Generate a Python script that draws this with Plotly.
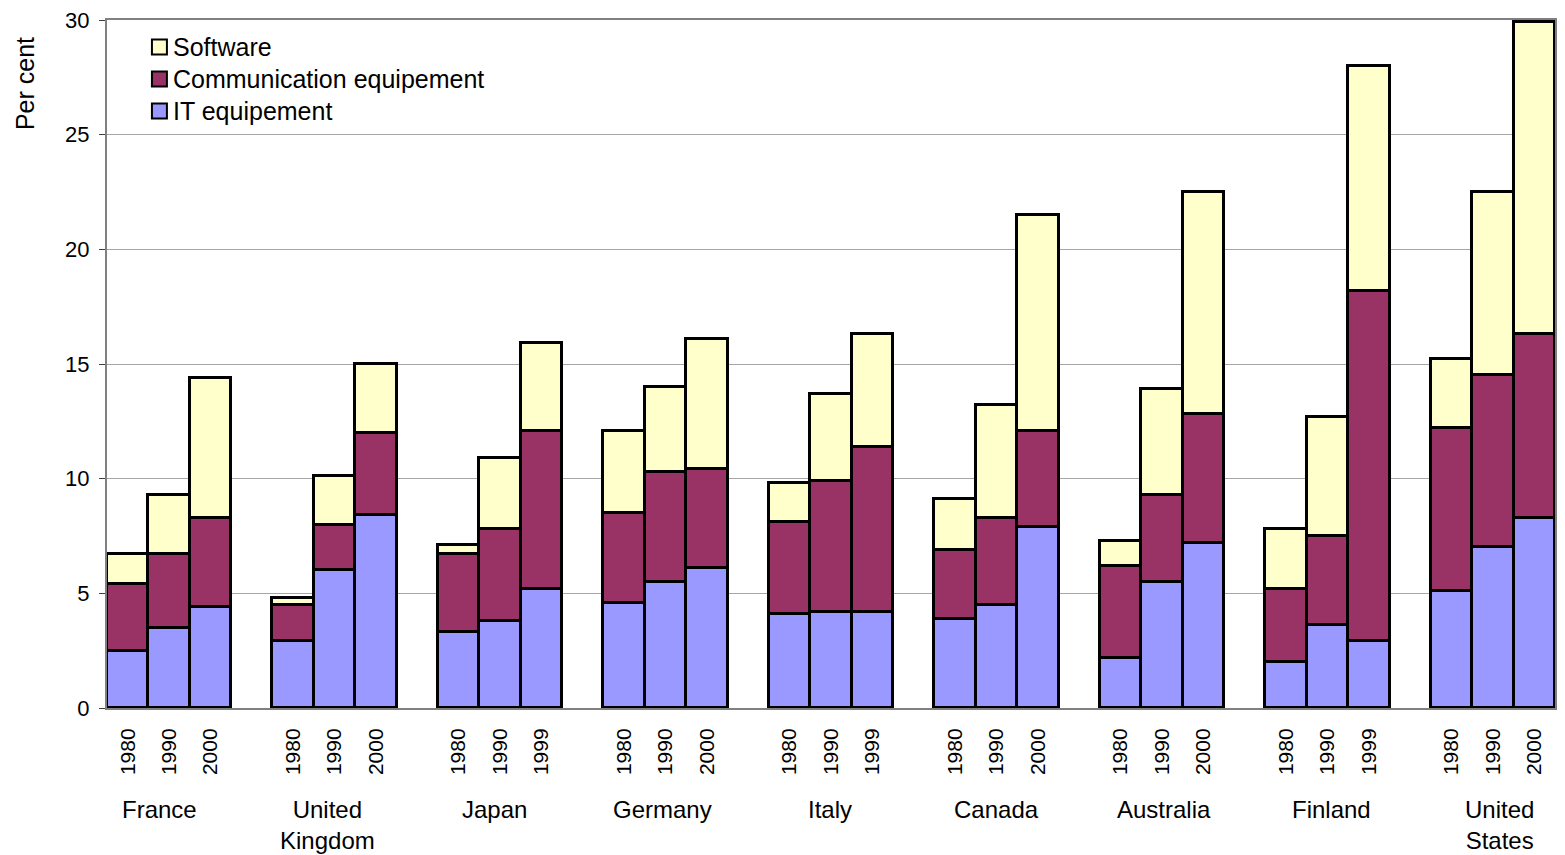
import plotly.graph_objects as go

# Shares of ICT investment in non-residential investment, by component
countries = ["France", "United<br>Kingdom", "Japan", "Germany", "Italy",
             "Canada", "Australia", "Finland", "United<br>States"]
years = [
    ["1980", "1990", "2000"],
    ["1980", "1990", "2000"],
    ["1980", "1990", "1999"],
    ["1980", "1990", "2000"],
    ["1980", "1990", "1999"],
    ["1980", "1990", "2000"],
    ["1980", "1990", "2000"],
    ["1980", "1990", "1999"],
    ["1980", "1990", "2000"],
]

it_equipment = [
    2.5, 3.5, 4.4,
    2.9, 6.0, 8.4,
    3.3, 3.8, 5.2,
    4.6, 5.5, 6.1,
    4.1, 4.2, 4.2,
    3.9, 4.5, 7.9,
    2.2, 5.5, 7.2,
    2.0, 3.6, 2.9,
    5.1, 7.0, 8.3,
]
communication = [
    2.9, 3.2, 3.9,
    1.6, 2.0, 3.6,
    3.4, 4.0, 6.9,
    3.9, 4.8, 4.3,
    4.0, 5.7, 7.2,
    3.0, 3.8, 4.2,
    4.0, 3.8, 5.6,
    3.2, 3.9, 15.3,
    7.1, 7.5, 8.0,
]
software = [
    1.3, 2.6, 6.1,
    0.3, 2.1, 3.0,
    0.4, 3.1, 3.8,
    3.6, 3.7, 5.7,
    1.7, 3.8, 4.9,
    2.2, 4.9, 9.4,
    1.1, 4.6, 9.7,
    2.6, 5.2, 9.8,
    3.0, 8.0, 13.6,
]

series_names = ["IT equipement", "Communication equipement", "Software"]
series_colors = ["#9999FF", "#993366", "#FFFFCC"]
series_values = [it_equipment, communication, software]

# Bar slots: three bars per country, one empty slot between countries
x_pos = []
tick_text = []
for g, ys in enumerate(years):
    for i, yr in enumerate(ys):
        x_pos.append(g * 4 + i)
        tick_text.append(yr)

FONT = "Arial, Liberation Sans, sans-serif"
EDGE = dict(color="black", width=3)

W, H = 1565, 855
ML, MR, MT, MB = 107, 8, 20, 147
PW, PH = W - ML - MR, H - MT - MB


def px_x(px):
    return (px - ML) / PW


def px_y(py):
    return (H - MB - py) / PH


fig = go.Figure()
for name, color, vals in zip(series_names, series_colors, series_values):
    fig.add_trace(go.Bar(x=x_pos, y=vals, name=name, showlegend=False,
                         marker=dict(color=color, line=EDGE)))

# Country names under each group of three bars
for g, name in enumerate(countries):
    fig.add_annotation(x=0.78 + g * 4.046, y=px_y(794), xref="x", yref="paper",
                       text=name, showarrow=False, yanchor="top",
                       font=dict(family=FONT, size=24, color="black"))

# Legend box in the upper-left corner, top entry = top of the stack
for row, k in enumerate(reversed(range(len(series_names)))):
    cy = 47 + row * 32
    fig.add_shape(type="rect", xref="paper", yref="paper",
                  x0=px_x(152), x1=px_x(167), y0=px_y(cy - 7.5), y1=px_y(cy + 7.5),
                  fillcolor=series_colors[k], line=dict(color="black", width=2),
                  layer="above")
    fig.add_annotation(x=px_x(171), y=px_y(cy), xref="paper", yref="paper",
                       text=series_names[k], showarrow=False,
                       xanchor="left", yanchor="middle",
                       font=dict(family=FONT, size=25, color="black"))

# Rotated axis caption near the top of the value axis
fig.add_annotation(x=px_x(25), y=px_y(84), xref="paper", yref="paper",
                   text="Per cent", textangle=-90, showarrow=False,
                   xanchor="center", yanchor="middle",
                   font=dict(family=FONT, size=25, color="black"))

fig.update_layout(
    width=W, height=H,
    margin=dict(l=ML, r=MR, t=MT, b=MB),
    paper_bgcolor="white", plot_bgcolor="white",
    barmode="stack", bargap=0,
    font=dict(family=FONT, size=21, color="black"),
    showlegend=False,
    xaxis=dict(range=[-0.5, 34.5], tickvals=x_pos, ticktext=tick_text,
               tickangle=-90, ticks="", ticklabelstandoff=10,
               tickfont=dict(family=FONT, size=21, color="black"),
               showgrid=False, zeroline=False,
               showline=True, linecolor="#808080", linewidth=2, mirror=True),
    yaxis=dict(range=[0, 30], tick0=0, dtick=5, ticks="outside", ticklen=6,
               tickcolor="#404040", tickwidth=1, ticklabelstandoff=5,
               tickfont=dict(family=FONT, size=22, color="black"),
               showgrid=True, gridcolor="#a6a6a6", gridwidth=1,
               zeroline=False, showline=True, linecolor="#808080",
               linewidth=2, mirror=True),
)

fig.write_html("out.html")
